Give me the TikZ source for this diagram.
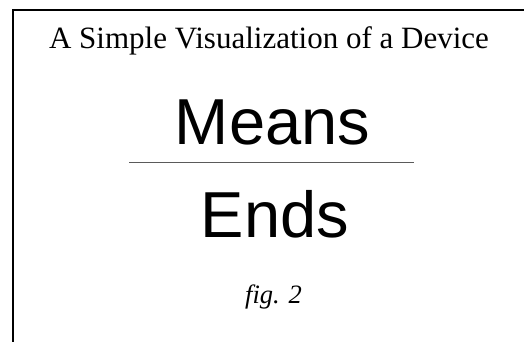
\documentclass[tikz,border=0pt]{standalone}
\usepackage{fontspec}
\setmainfont{Liberation Serif}
\newfontfamily\headfont{Liberation Sans}
\usepackage{xcolor}
\usetikzlibrary{positioning}
\definecolor{rulegray}{HTML}{5A5A5A}
\tikzset{
  framebox/.style={draw=black,line width=1.3pt},
  titlenode/.style={anchor=base,inner sep=0pt,font=\fontsize{31}{35}\selectfont},
  bignode/.style={anchor=base,inner sep=0pt,font=\headfont\fontsize{65}{70}\selectfont},
  fignode/.style={anchor=base,inner sep=0pt,font=\itshape\fontsize{26.5}{30}\selectfont},
  sepline/.style={draw=rulegray,line width=0.9pt},
}
\begin{document}
\begin{tikzpicture}[x=1pt,y=-1pt]
  \useasboundingbox (0,0) rectangle (524,342);
  \clip (0,0) rectangle (524,342);
  \draw[framebox] (13,10) rectangle (540,360);
  \node[titlenode] (nTitle) at (269,48.5) {A Simple Visualization of a Device};
  \node[bignode] (nMeans) at (272.5,144) {Means};
  \coordinate (cSepL) at (129,162.5);
  \coordinate (cSepR) at (414,162.5);
  \draw[sepline] (cSepL) -- (cSepR);
  \node[bignode] (nEnds) at (275,237) {Ends};
  \node[fignode] (nFig) at (273.5,303) {fig. 2};
\end{tikzpicture}
\end{document}
